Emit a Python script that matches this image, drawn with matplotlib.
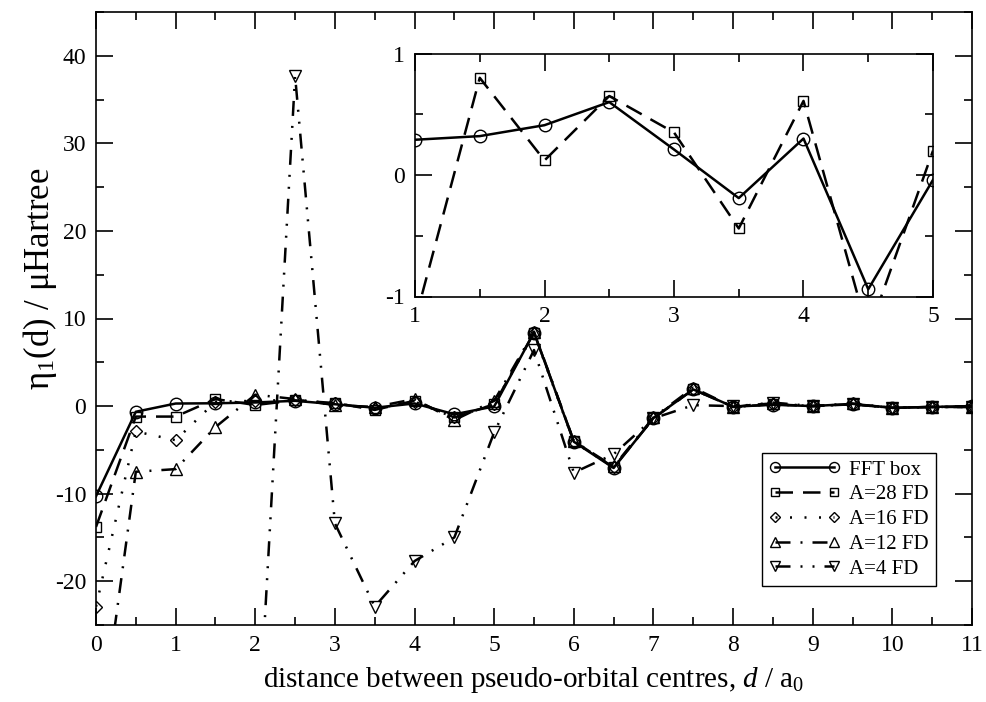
import numpy as np
import matplotlib
matplotlib.use("Agg")
import matplotlib.pyplot as plt
from matplotlib.ticker import MultipleLocator

plt.rcParams['font.family'] = ['Liberation Serif', 'DejaVu Serif']
plt.rcParams['mathtext.fontset'] = 'custom'
plt.rcParams['mathtext.rm'] = 'Liberation Serif'
plt.rcParams['mathtext.it'] = 'Liberation Serif:italic'
plt.rcParams['axes.unicode_minus'] = False

# ---- data ----
d = [0, 0.5, 1, 1.5, 2, 2.5, 3, 3.5, 4, 4.5, 5, 5.5, 6, 6.5, 7, 7.5, 8, 8.5, 9, 9.5, 10, 10.5, 11]
fft_box = [-10.3, -0.65, 0.29, 0.32, 0.41, 0.60, 0.21, -0.19, 0.30, -0.94, -0.04, 8.4, -4.07, -7.07,
           -1.37, 1.9, -0.07, 0.15, 0.0, 0.25, -0.2, -0.1, 0.0]
a28_fd = [-13.8, -1.2, -1.2, 0.80, 0.12, 0.65, 0.35, -0.44, 0.61, -1.3, 0.20, 8.4, -4.0, -7.0,
          -1.4, 1.9, -0.1, 0.2, 0.0, 0.2, -0.2, -0.1, -0.1]
a16_fd = [-22.9, -2.9, -3.9, 0.5, 0.6, 0.7, 0.3, -0.3, 0.5, -1.3, 0.2, 8.3, -4.1, -7.0,
          -1.4, 1.9, -0.1, 0.2, 0.0, 0.2, -0.2, -0.1, -0.1]
a12_fd = [-41.0, -7.5, -7.2, -2.4, 1.3, 0.8, 0.1, -0.1, 0.8, -1.6, 0.6, 8.5, -4.0, -6.9,
          -1.3, 2.1, -0.1, 0.4, 0.0, 0.3, -0.2, -0.1, -0.1]
a4_fd = [-60.0, -55.0, -50.0, -47.0, -44.0, 37.7, -13.4, -22.9, -17.7, -15.0, -3.0, 6.4, -7.6, -5.5,
         -1.4, 0.1, 0.0, 0.3, 0.0, 0.2, -0.2, -0.1, -0.1]
labels = ['FFT box', 'A=28 FD', 'A=16 FD', 'A=12 FD', 'A=4 FD']
inset_range = (1, 5)

# ---- styles ----
lw = 1.8
styles = [
    dict(marker='o', ms=9, linestyle='-'),
    dict(marker='s', ms=7.5, dashes=(7, 4)),
    dict(marker='D', ms=6.2, dashes=(0.8, 5)),
    dict(marker='^', ms=9, dashes=(6, 4, 0.8, 4)),
    dict(marker='v', ms=9, dashes=(6, 4, 0.8, 4, 0.8, 4)),
]

fig = plt.figure(figsize=(9.86, 7.02), dpi=100)
ax = fig.add_axes([96/986, 77/702, 876/986, 613/702])

series = [fft_box, a28_fd, a16_fd, a12_fd, a4_fd]
for y, lab, st in zip(series, labels, styles):
    ax.plot(d, y, color='black', lw=lw, mfc='none', mec='black', mew=1.0, label=lab, **st)

ax.set_xlim(0, 11)
ax.set_ylim(-25, 45)
ax.xaxis.set_major_locator(MultipleLocator(1))
ax.xaxis.set_minor_locator(MultipleLocator(0.5))
ax.yaxis.set_major_locator(MultipleLocator(10))
ax.yaxis.set_minor_locator(MultipleLocator(5))
ax.tick_params(which='both', direction='in', top=True, right=True, width=1.2, labelsize=17)
ax.tick_params(which='major', length=12, pad=7)
ax.tick_params(which='minor', length=6)
for sp in ax.spines.values():
    sp.set_linewidth(1.2)

ax.set_xlabel(r'distance between pseudo-orbital centres, $d$ / $\mathrm{a}_0$', fontsize=21)
ax.set_ylabel(r'$\mathrm{η}_1$(d) / μHartree', fontsize=25)
ax.xaxis.set_label_coords(0.5, -0.065)
ax.yaxis.set_label_coords(-0.042, 0.565)

leg = ax.legend(loc='lower right', bbox_to_anchor=(0.959, 0.0636), borderaxespad=0,
                fontsize=15, numpoints=2, handlelength=3.4, markerscale=0.8,
                fancybox=False, edgecolor='black', framealpha=1, labelspacing=0.25,
                handletextpad=0.45, borderpad=0.35)
leg.get_frame().set_linewidth(1.0)

# ---- inset ----
ins = fig.add_axes([415/986, (702-296.5)/702, 518/986, 243/702])
i0 = d.index(inset_range[0])
i1 = d.index(inset_range[1]) + 1
for y, st in zip(series[:2], styles[:2]):
    ins.plot(d[i0:i1], y[i0:i1], color='black', lw=lw, mfc='none', mec='black', mew=1.0, **st)
ins.set_xlim(1, 5)
ins.set_ylim(-1, 1)
ins.xaxis.set_major_locator(MultipleLocator(1))
ins.xaxis.set_minor_locator(MultipleLocator(0.5))
ins.yaxis.set_major_locator(MultipleLocator(1))
ins.yaxis.set_minor_locator(MultipleLocator(0.5))
ins.tick_params(which='both', direction='in', top=True, right=True, width=1.2, labelsize=17)
ins.tick_params(which='major', length=12, pad=7)
ins.tick_params(which='minor', length=6)
for sp in ins.spines.values():
    sp.set_linewidth(1.2)

fig.savefig('out.png', dpi=100)
